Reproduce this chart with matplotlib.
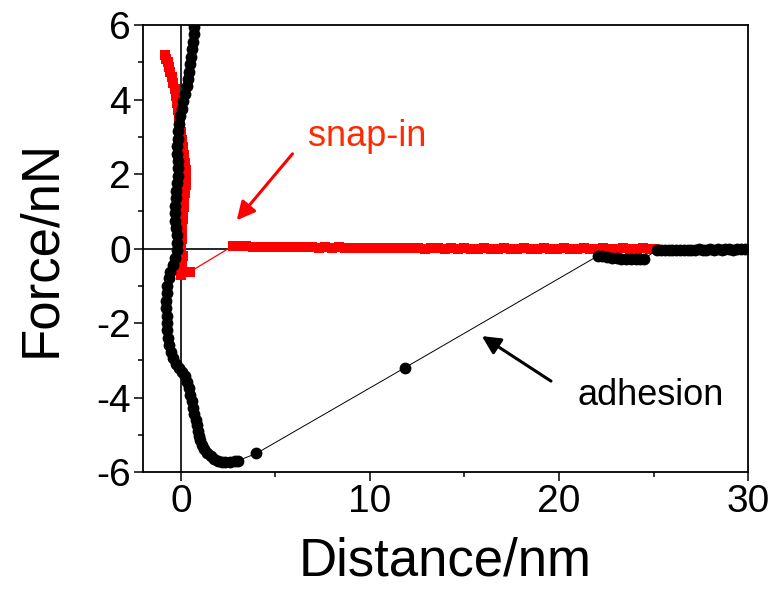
import matplotlib
matplotlib.use("Agg")
import matplotlib.pyplot as plt

plt.rcParams['font.family'] = ['Liberation Sans', 'DejaVu Sans']
plt.rcParams['axes.unicode_minus'] = False

# approach curve (red squares)
approach_x = [-0.85, -0.78, -0.7, -0.62, -0.55, -0.48, -0.4, -0.33, -0.26, -0.2,
              -0.14, -0.08, -0.03, 0.02, 0.07, 0.12, 0.17, 0.22, 0.25, 0.27,
              0.26, 0.22, 0.18, 0.15, 0.12, 0.1, 0.08, 0.06, 0.05, 0.03,
              0.0, -0.05, -0.02, 0.1, 0.05, 0.0, 0.5,
              2.75, 3.1, 3.45, 3.8, 4.15, 4.5, 4.85, 5.2, 5.55, 5.9,
              6.25, 6.6, 6.95, 7.3, 7.65, 8.0, 8.35, 8.7, 9.05, 9.4,
              9.75, 10.1, 10.45, 10.8, 11.15, 11.5, 11.85, 12.2, 12.55, 12.9,
              13.25, 13.6, 13.95, 14.3, 14.65, 15.0, 15.35, 15.7, 16.05, 16.4,
              16.75, 17.1, 17.45, 17.8, 18.15, 18.5, 18.85, 19.2, 19.55, 19.9,
              20.25, 20.6, 20.95, 21.3, 21.65, 22.0, 22.35, 22.7, 23.05, 23.4,
              23.75, 24.1, 24.45, 24.8, 25.1]
approach_y = [5.2, 5.1, 5.0, 4.88, 4.75, 4.6, 4.45, 4.28, 4.1, 3.92,
              3.72, 3.52, 3.32, 3.12, 2.92, 2.72, 2.52, 2.3, 2.1, 1.9,
              1.7, 1.5, 1.3, 1.12, 0.95, 0.78, 0.6, 0.42, 0.25, 0.08,
              -0.1, -0.3, -0.5, -0.2, -0.45, -0.72, -0.62,
              0.07, 0.06, 0.06, 0.05, 0.05, 0.04, 0.05, 0.04, 0.04, 0.03,
              0.04, 0.03, 0.03, 0.02, 0.03, 0.02, 0.03, 0.02, 0.02, 0.01,
              0.02, 0.02, 0.01, 0.02, 0.01, 0.01, 0.02, 0.01, 0.01, 0.0,
              0.01, 0.01, 0.0, 0.01, 0.0, 0.01, 0.0, 0.0, 0.01, 0.0,
              0.0, 0.01, 0.0, 0.0, 0.01, 0.0, 0.0, 0.01, 0.0, 0.0,
              0.01, 0.0, 0.0, 0.01, 0.0, 0.0, 0.01, 0.0, 0.0, 0.01,
              0.0, 0.0, 0.01, 0.0, 0.0]

# retract curve (black circles)
retract_x = [0.7, 0.68, 0.65, 0.6, 0.55, 0.5, 0.45, 0.38, 0.3, 0.22,
             0.14, 0.06, -0.02, -0.08, -0.13, -0.16, -0.18, -0.18, -0.17, -0.16,
             -0.17, -0.2, -0.24, -0.28, -0.31, -0.32, -0.3, -0.27, -0.23, -0.2,
             -0.22, -0.3, -0.42, -0.55, -0.65, -0.72, -0.75, -0.76, -0.76, -0.75,
             -0.74, -0.72, -0.68, -0.62, -0.53, -0.42, -0.28, -0.12, 0.05, 0.2,
             0.32, 0.42, 0.5, 0.58, 0.65, 0.72, 0.8, 0.86, 0.9, 0.95,
             1.02, 1.12, 1.25, 1.4, 1.57, 1.75, 1.95, 2.15, 2.35, 2.6,
             2.85, 3.0,
             4.0, 11.85, 22.05,
             22.3, 22.55, 22.8, 23.05, 23.3, 23.55, 23.8, 24.05, 24.3, 24.5,
             25.2, 25.4, 25.6, 25.8, 26.0, 26.2, 26.4, 26.6, 26.8, 27.0,
             27.2, 27.4, 27.6, 27.8, 28.0, 28.2, 28.4, 28.6, 28.8, 29.0,
             29.2, 29.4, 29.6, 29.85]
retract_y = [5.95, 5.75, 5.55, 5.35, 5.15, 4.95, 4.75, 4.55, 4.35, 4.15,
             3.95, 3.75, 3.55, 3.35, 3.15, 2.95, 2.75, 2.55, 2.35, 2.15,
             1.95, 1.75, 1.55, 1.35, 1.15, 0.95, 0.75, 0.55, 0.35, 0.15,
             -0.05, -0.25, -0.45, -0.62, -0.8, -1.0, -1.2, -1.4, -1.6, -1.8,
             -2.0, -2.2, -2.4, -2.6, -2.78, -2.95, -3.1, -3.22, -3.32, -3.42,
             -3.58, -3.75, -3.92, -4.1, -4.28, -4.45, -4.6, -4.75, -4.9, -5.02,
             -5.15, -5.27, -5.38, -5.48, -5.57, -5.64, -5.7, -5.73, -5.72, -5.72,
             -5.7, -5.7,
             -5.5, -3.2, -0.2,
             -0.21, -0.23, -0.25, -0.26, -0.27, -0.28, -0.28, -0.29, -0.28, -0.27,
             -0.04, -0.04, -0.03, -0.04, -0.03, -0.03, -0.04, -0.03, -0.03, -0.03,
             -0.03, -0.02, -0.03, -0.03, -0.02, -0.03, -0.02, -0.03, -0.02, -0.02,
             -0.03, -0.02, -0.02, -0.02]

xticks = [0, 10, 20, 30]
yticks = [-6, -4, -2, 0, 2, 4, 6]

fig = plt.figure(figsize=(7.74, 5.89), dpi=100)
ax = fig.add_axes([0.1848, 0.1986, 0.7817, 0.7589])

ax.axhline(0, color='black', lw=1.2, zorder=1)
ax.axvline(0, color='black', lw=1.2, zorder=1)

ax.plot(approach_x, approach_y, color='#ff0000', lw=0.9, marker='s',
        markersize=7, markeredgewidth=0, zorder=2)
ax.plot(retract_x, retract_y, color='black', lw=0.7, marker='o',
        markersize=8.5, markeredgewidth=0, zorder=3)

ax.annotate('', xy=(2.86, 0.70), xytext=(6.0, 2.6),
            arrowprops=dict(arrowstyle='-|>,head_length=1.1,head_width=0.55',
                            color='#ff0000', lw=2.2))
ax.text(6.72, 2.74, 'snap-in', color='#ff2a00', fontsize=26, va='baseline')

ax.annotate('', xy=(15.8, -2.31), xytext=(19.7, -3.6),
            arrowprops=dict(arrowstyle='-|>,head_length=1.1,head_width=0.55',
                            color='black', lw=2.2))
ax.text(21.0, -4.19, 'adhesion', color='black', fontsize=26, va='baseline')

ax.set_xlim(-2, 30)
ax.set_ylim(-6, 6)
ax.set_xticks(xticks)
ax.set_yticks(yticks)
ax.set_xticks([5, 15, 25], minor=True)
ax.set_yticks([-5, -3, -1, 1, 3, 5], minor=True)
ax.tick_params(which='major', direction='out', length=6.5, width=1.1,
               labelsize=28, pad=2, top=False, right=False)
ax.tick_params(which='minor', direction='out', length=3.5, width=1.1,
               top=False, right=False)
for s in ax.spines.values():
    s.set_linewidth(1.3)

ax.set_xlabel('Distance/nm', fontsize=38, labelpad=12)
ax.set_ylabel('Force/nN', fontsize=38, labelpad=22)

fig.savefig('out.png', dpi=100)
